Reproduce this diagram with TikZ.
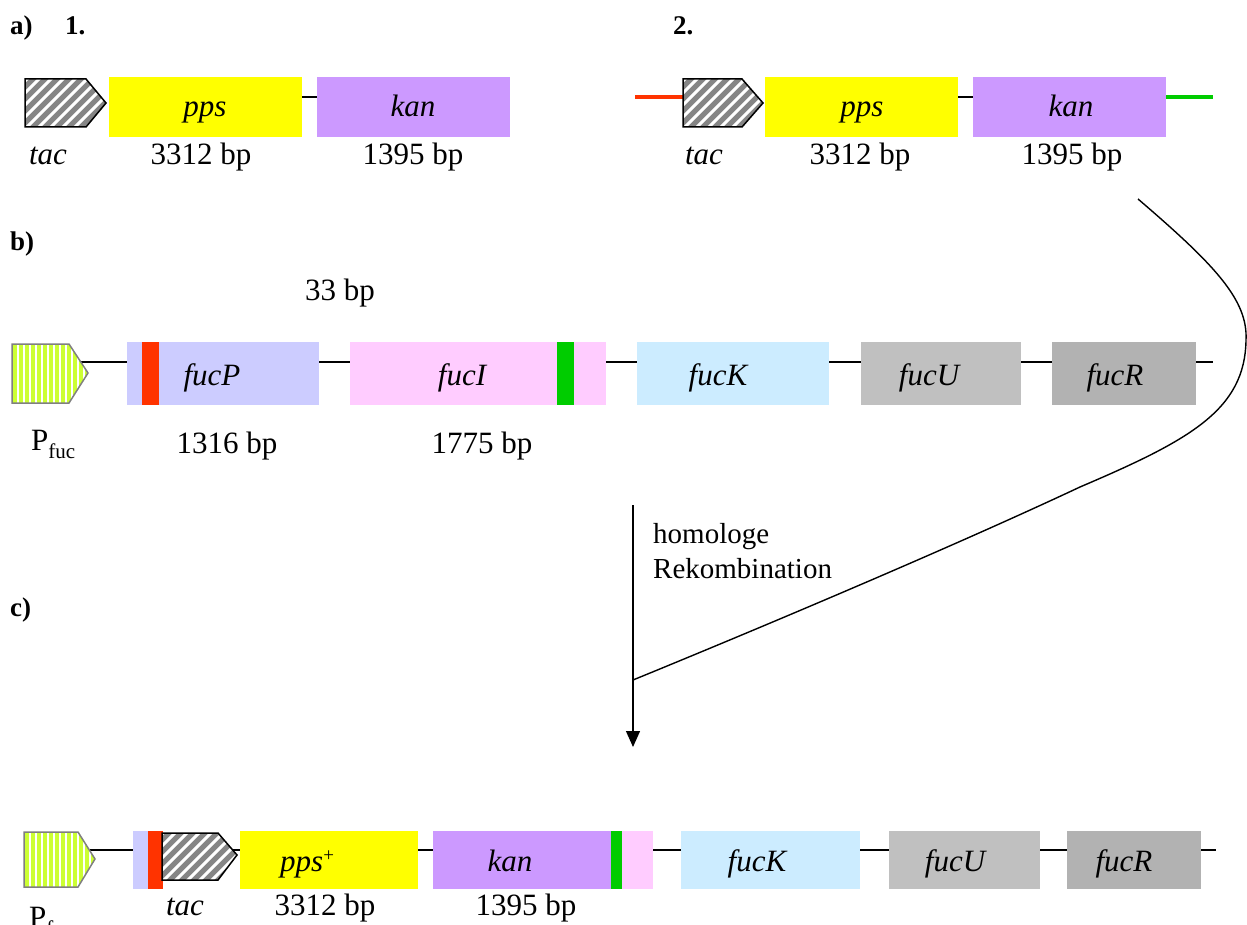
\documentclass[tikz,border=0pt]{standalone}
\usepackage{fontspec}
\setmainfont{Liberation Serif}
\usetikzlibrary{arrows.meta}
\definecolor{ppsY}{HTML}{FFFF00}
\definecolor{kanP}{HTML}{CC99FF}
\definecolor{fucPc}{HTML}{CCCCFF}
\definecolor{fucIc}{HTML}{FFCCFF}
\definecolor{fucKc}{HTML}{CCECFF}
\definecolor{fucUc}{HTML}{C0C0C0}
\definecolor{fucRc}{HTML}{B2B2B2}
\definecolor{redM}{HTML}{FF3300}
\definecolor{greenM}{HTML}{00CC00}
\definecolor{tacG}{HTML}{858585}
\definecolor{fucY}{HTML}{CCFF33}
\definecolor{fucBorder}{HTML}{808080}

% promoter tac: x0, xbody, xtip, ytop, ytip, ybottom
\newcommand{\genetac}[6]{%
  \begin{scope}
    \clip (#1,#4) -- (#2,#4) -- (#3,#5) -- (#2,#6) -- (#1,#6) -- cycle;
    \fill[tacG] (#1-2,#4-2) rectangle (#3+2,#6+2);
    \foreach \k in {-5,...,8} \draw[white, line width=3] ({#1+\k*12},{#6+2}) -- ++(60,-60);
  \end{scope}
  \draw[line width=1.5, line join=miter] (#1,#4) -- (#2,#4) -- (#3,#5) -- (#2,#6) -- (#1,#6) -- cycle;
}
% promoter fuc
\newcommand{\genefuc}[6]{%
  \begin{scope}
    \clip (#1,#4) -- (#2,#4) -- (#3,#5) -- (#2,#6) -- (#1,#6) -- cycle;
    \fill[fucY] (#1-2,#4-2) rectangle (#3+2,#6+2);
    \foreach \k in {1,...,13} \draw[white, line width=2] ({#1+\k*6},#4) -- ({#1+\k*6},#6);
  \end{scope}
  \draw[line width=1.5, draw=fucBorder] (#1,#4) -- (#2,#4) -- (#3,#5) -- (#2,#6) -- (#1,#6) -- cycle;
}

\tikzset{
  lab/.style={font=\fontsize{31}{36}\selectfont, inner sep=0, anchor=base},
  glab/.style={font=\fontsize{31}{36}\selectfont\itshape, inner sep=0, anchor=base},
  head/.style={font=\fontsize{27}{32}\selectfont\bfseries, inner sep=0, anchor=base west},
  note/.style={font=\fontsize{29}{34}\selectfont, inner sep=0, anchor=base west},
  gbox/.style={inner sep=0, anchor=north west, draw=none},
  rowa/.style={gbox, minimum height=60},
  rowb/.style={gbox, minimum height=63},
  rowc/.style={gbox, minimum height=58},
  thinbb/.style={line width=1.6},
  bb/.style={line width=2},
}

\begin{document}
\begin{tikzpicture}[x=1pt,y=-1pt]
\useasboundingbox (0,0) rectangle (1247,925);

% headings
\node[head] (la) at (10,35) {a)};
\node[head] (l1) at (65,35) {1.};
\node[head] (l2) at (673,35) {2.};
\node[head] (lb) at (10,251) {b)};
\node[head] (lc) at (10,616) {c)};

% ---------- row a1 ----------
\node[rowa, fill=ppsY, minimum width=193] (ppsA) at (109,77) {};
\node[rowa, fill=kanP, minimum width=193] (kanA) at (317,77) {};
\draw[thinbb] ([yshift=-20pt]ppsA.north east) -- ([yshift=-20pt]kanA.north west);
\genetac{25}{86}{106}{79}{103}{127}
\node[glab] (ppsAt) at (205,117) {pps};
\node[glab] (kanAt) at (413,117) {kan};
\node[glab] (tacAt) at (48,165) {tac};
\node[lab] (ppsAbp) at (201,165) {3312 bp};
\node[lab] (kanAbp) at (413,165) {1395 bp};

% ---------- row a2 ----------
\coordinate (redA) at (635,97);
\coordinate (tacBl) at (683,97);
\coordinate (greenEnd) at (1213,97);
\draw[redM, line width=4] (redA) -- (tacBl);
\genetac{683}{742}{763}{79}{103}{127}
\node[rowa, fill=ppsY, minimum width=193] (ppsB) at (765,77) {};
\node[rowa, fill=kanP, minimum width=193] (kanB) at (973,77) {};
\draw[thinbb] ([yshift=-20pt]ppsB.north east) -- ([yshift=-20pt]kanB.north west);
\draw[greenM, line width=4] ([yshift=-20pt]kanB.north east) -- (greenEnd);
\node[glab] (ppsBt) at (862,117) {pps};
\node[glab] (kanBt) at (1071,117) {kan};
\node[glab] (tacBt) at (704,165) {tac};
\node[lab] (ppsBbp) at (860,165) {3312 bp};
\node[lab] (kanBbp) at (1072,165) {1395 bp};

% ---------- row b ----------
\coordinate (bbBs) at (80,362);
\coordinate (bbBe) at (1213,362);
\draw[bb] (bbBs) -- (bbBe);
\node[rowb, fill=fucPc, minimum width=192] (fucPb) at (127,342) {};
\node[rowb, fill=redM, minimum width=17] (redB) at (142,342) {};
\node[rowb, fill=fucIc, minimum width=256] (fucIb) at (350,342) {};
\node[rowb, fill=greenM, minimum width=17] (greenB) at (557,342) {};
\node[rowb, fill=fucKc, minimum width=192] (fucKb) at (637,342) {};
\node[rowb, fill=fucUc, minimum width=160] (fucUb) at (861,342) {};
\node[rowb, fill=fucRc, minimum width=144] (fucRb) at (1052,342) {};
\genefuc{12}{69}{88}{344}{373}{403}
\node[glab] (fucPt) at (212,385) {fucP};
\node[glab] (fucIt) at (462,385) {fucI};
\node[glab] (fucKt) at (718,385) {fucK};
\node[glab] (fucUt) at (929,385) {fucU};
\node[glab] (fucRt) at (1115,385) {fucR};
\node[lab] (bp33) at (340,300) {33 bp};
\node[lab] (fucPbp) at (227,453) {1316 bp};
\node[lab] (fucIbp) at (482,453) {1775 bp};
\node[lab, anchor=base west] (pfucB) at (31,450) {P\raisebox{-8pt}{\fontsize{21}{21}\selectfont fuc}};

% ---------- recombination arrow ----------
\coordinate (arT) at (633,505);
\coordinate (arB) at (633,747);
\draw[line width=1.3, -{Triangle[length=16pt,width=14pt]}] (arT) -- (arB);
\node[note] (hom) at (653,543) {homologe};
\node[note] (rek) at (653,578) {Rekombination};
\coordinate (cS) at (1138,199);
\coordinate (cJ) at (633,680);
\draw[line width=1.4] (cS) .. controls (1215,265) and (1248,300) .. (1246,340)
  .. controls (1245,410) and (1190,440) .. (1080,487)
  .. controls (950,548) and (760,628) .. (cJ);

% ---------- row c ----------
\coordinate (bbCs) at (90,850);
\coordinate (bbCe) at (1216,850);
\draw[bb] (bbCs) -- (bbCe);
\node[rowc, fill=fucPc, minimum width=15] (lavC) at (133,831) {};
\node[rowc, fill=redM, minimum width=15] (redC) at (148,831) {};
\genetac{162}{218}{237}{833}{855}{880}
\node[rowc, fill=ppsY, minimum width=178] (ppsC) at (240,831) {};
\node[rowc, fill=kanP, minimum width=178] (kanC) at (433,831) {};
\node[rowc, fill=greenM, minimum width=11] (greenC) at (611,831) {};
\node[rowc, fill=fucIc, minimum width=31] (pinkC) at (622,831) {};
\node[rowc, fill=fucKc, minimum width=179] (fucKC) at (681,831) {};
\node[rowc, fill=fucUc, minimum width=151] (fucUC) at (889,831) {};
\node[rowc, fill=fucRc, minimum width=134] (fucRC) at (1067,831) {};
\genefuc{24}{78}{95}{832}{859}{887}
\node[glab, anchor=base west] (ppsCt) at (280,871) {pps\raisebox{10pt}{\upshape\fontsize{19}{19}\selectfont +}};
\node[glab] (kanCt) at (510,871) {kan};
\node[glab] (fucKCt) at (757,871) {fucK};
\node[glab] (fucUCt) at (955,871) {fucU};
\node[glab] (fucRCt) at (1124,871) {fucR};
\node[glab] (tacCt) at (185,915) {tac};
\node[lab] (ppsCbp) at (325,915) {3312 bp};
\node[lab] (kanCbp) at (526,915) {1395 bp};
\node[lab, anchor=base west] (pfucC) at (29,927) {P\raisebox{-8pt}{\fontsize{21}{21}\selectfont fuc}};
\end{tikzpicture}
\end{document}
